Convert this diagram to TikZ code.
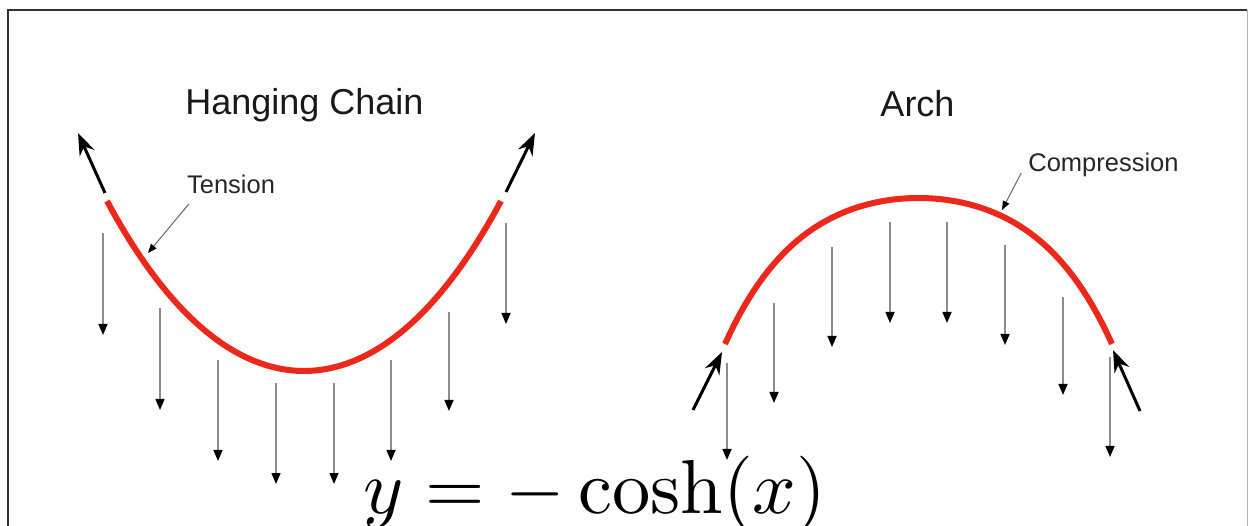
\documentclass[tikz,border=0pt]{standalone}
\usepackage{fontspec}
\newfontfamily\labelfont{Liberation Sans}
\usetikzlibrary{arrows.meta}
\definecolor{chainred}{RGB}{234,40,28}
\definecolor{framebrown}{RGB}{62,46,46}

\begin{document}
\begin{tikzpicture}[x=1pt, y=-1pt]
    % Define styles
    \tikzstyle{title} = [font=\labelfont\fontsize{36}{40}\selectfont, text=black!90, inner sep=0pt, anchor=base]
    \tikzstyle{tag} = [font=\labelfont\fontsize{25.5}{30}\selectfont, text=black!85, inner sep=0pt, anchor=base]
    \tikzstyle{cable} = [draw=chainred, line width=6pt]
    \tikzstyle{force} = [-{Stealth[length=22pt, width=16pt]}, line width=3pt]
    \tikzstyle{load} = [-{Triangle[length=11pt, width=9pt, black]}, draw=black!45, line width=1.5pt]
    \tikzstyle{pointer} = [-{Triangle[length=9pt, width=7pt, black]}, draw=black!60, line width=1pt]

    \useasboundingbox (0,0) rectangle (1248,526);

    % Frame
    \draw[framebrown, line width=2.5pt] (8,526) -- (8,10) -- (1247,10);
    \draw[black!30, line width=1pt] (1247,10) -- (1247,526);

    % Labels
    \node[title] (chaintitle) at (304.5,115) {Hanging Chain};
    \node[title] (archtitle) at (917.5,117) {Arch};
    \node[tag] (tension) at (231,194) {Tension};
    \node[tag] (compression) at (1103.5,172) {Compression};
    \node[anchor=base, inner sep=0pt, scale=7.65] (formula) at (595,513) {$y=-\cosh(x)$};

    % Curves
    \draw[cable] plot[domain=-1:1, samples=80] ({304+197*\x}, {371-170*(cosh(\x)-1)/(cosh(1)-1)});
    \draw[cable] plot[domain=-1:1, samples=80] ({918.5+193.5*\x}, {198+146*(cosh(2.5*\x)-1)/(cosh(2.5)-1)});

    % Force points
    \coordinate (chainLtail) at (105,193);
    \coordinate (chainLtip) at (78,133);
    \coordinate (chainRtail) at (506,192);
    \coordinate (chainRtip) at (535,133);
    \coordinate (archLtail) at (693,410);
    \coordinate (archLtip) at (722,352);
    \coordinate (archRtail) at (1140,411);
    \coordinate (archRtip) at (1113,350);
    \coordinate (tensionend) at (148,253);
    \coordinate (compressionend) at (1002,210);

    % End forces
    \draw[force] (chainLtail) -- (chainLtip);
    \draw[force] (chainRtail) -- (chainRtip);
    \draw[force] (archLtail) -- (archLtip);
    \draw[force] (archRtail) -- (archRtip);

    % Pointers
    \draw[pointer] ([shift={(2,10)}]tension.base west) -- (tensionend);
    \draw[pointer] ([shift={(-7,1)}]compression.base west) -- (compressionend);

    % Loads
    \foreach \px/\ya/\yb in {103/233/335, 160/308/410, 218/360/461, 276/383/484,
                             334/383/484, 391/360/461, 449/312/411, 506/223/324}
        \draw[load] (\px,\ya) -- (\px,\yb);
    \foreach \px/\ya/\yb in {727/363/460, 774/303/403, 832/247/347, 890/222/323,
                             947/222/323, 1005/245/345, 1063/297/395, 1110/357/457}
        \draw[load] (\px,\ya) -- (\px,\yb);
\end{tikzpicture}
\end{document}
